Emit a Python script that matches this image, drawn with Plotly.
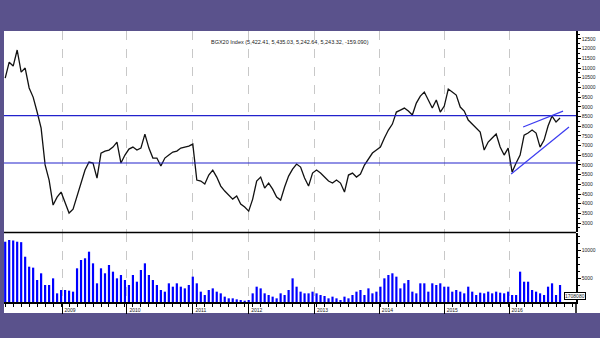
import plotly.graph_objects as go
from plotly.subplots import make_subplots

title_text = "BGX20 Index (5,422.41, 5,435.03, 5,242.64, 5,243.32, -159.090)"

price = [10480, 11300, 11100, 11930, 10790, 11000, 9970, 9500, 8730, 7900,
         6000, 5220, 3930, 4340, 4600, 4030, 3520, 3720, 4390, 5120,
         5735, 6148, 6096, 5322, 6612, 6715, 6767, 6922, 7180, 6096,
         6509, 6818, 6922, 6767, 6870, 7592, 6870, 6354, 6354, 5941,
         6354, 6509, 6664, 6715, 6870, 6922, 6973, 7076, 5219, 5167,
         5012, 5477, 5735, 5374, 4909, 4651, 4445, 4238, 4393, 3980,
         3826, 3619, 4238, 5167, 5374, 4806, 5064, 4754, 4342, 4187,
         4858, 5425, 5786, 6044, 5890, 5322, 4909, 5580, 5735, 5580,
         5374, 5167, 5064, 5219, 5064, 4600, 5477, 5580, 5374, 5528,
         5993, 6302, 6612, 6767, 6922, 7386, 7799, 8108, 8728, 8830,
         8934, 8779, 8573, 9192, 9553, 9760, 9347, 8934, 9347, 8728,
         9037, 9914, 9760, 9605, 8986, 8779, 8315, 8108, 7902, 7696,
         6767, 7180, 7386, 7592, 6922, 6509, 6870, 5632, 6096, 6509,
         7541, 7644, 7799, 7644, 6922, 7283, 8005, 8521, 8212, 8418]

volume = [11480, 11790, 11700, 11480, 11400, 8800, 7020, 6850, 4640, 5840,
          3750, 3750, 4940, 2260, 2860, 2860, 2740, 2560, 6730, 8220,
          8520, 9700, 7620, 4050, 6730, 5840, 7320, 6130, 4940, 5540,
          4640, 3750, 5540, 4340, 6430, 7620, 5540, 4640, 3750, 2860,
          2560, 4050, 3450, 4050, 3450, 3150, 3750, 5240, 4050, 2560,
          1960, 2860, 3150, 2560, 2260, 1670, 1370, 1370, 1190, 1070,
          950, 1070, 2260, 3450, 3150, 2260, 1960, 1670, 1370, 2260,
          1960, 2860, 4940, 3450, 2560, 2260, 2260, 2560, 2260, 1960,
          1790, 1370, 1670, 1370, 1070, 1670, 1370, 1960, 2560, 2860,
          1960, 3150, 2260, 2560, 3450, 4940, 5540, 5840, 5240, 3150,
          4050, 4640, 2560, 2260, 4050, 4050, 2560, 4050, 3750, 4050,
          3450, 3450, 2560, 2860, 2560, 2260, 3450, 2560, 1960, 2380,
          2260, 2560, 2260, 2560, 2380, 2260, 2560, 1960, 1960, 6130,
          4340, 4340, 2860, 2560, 2260, 1960, 3450, 4050, 1960, 3750]

year_labels = ["2009", "2010", "2011", "2012", "2013", "2014", "2015", "2016"]
year_pos = [14.25, 30.5, 47, 61, 77.5, 93.75, 110, 126.25]

price_ticks = list(range(3000, 13000, 500))
volume_ticks = [5000, 10000]

h_levels = [8540, 6100]
upper_trend_x = [129.75, 139.75]
upper_trend_y = [7954, 8779]
lower_trend_x = [126.75, 141.25]
lower_trend_y = [5528, 7954]

last_volume_label = "1708080"

x = list(range(len(price)))

fig = make_subplots(rows=2, cols=1, shared_xaxes=True, vertical_spacing=0.0)

fig.add_trace(go.Scatter(x=x, y=price, mode="lines",
                         line=dict(color="#111111", width=1.3),
                         showlegend=False, hoverinfo="skip"), row=1, col=1)
for lv in h_levels:
    fig.add_trace(go.Scatter(x=[-1, 145], y=[lv, lv], mode="lines",
                             line=dict(color="#2222cc", width=1.2),
                             showlegend=False, hoverinfo="skip"), row=1, col=1)
fig.add_trace(go.Scatter(x=upper_trend_x, y=upper_trend_y, mode="lines",
                         line=dict(color="#3c3cf0", width=1.2),
                         showlegend=False, hoverinfo="skip"), row=1, col=1)
fig.add_trace(go.Scatter(x=lower_trend_x, y=lower_trend_y, mode="lines",
                         line=dict(color="#3c3cf0", width=1.2),
                         showlegend=False, hoverinfo="skip"), row=1, col=1)

fig.add_trace(go.Bar(x=x, y=volume, marker=dict(color="#0000ff", line=dict(width=0)),
                     showlegend=False, hoverinfo="skip"), row=2, col=1)

W, H = 600, 338
ml, mr, mt, mb = 4, 24, 31, 36
ph = H - mt - mb
pw = W - ml - mr

price_dom = [(302 - 232) / ph, 1]
vol_dom = [0, (302 - 233) / ph]

tickfont = dict(family="Liberation Sans, Arial, sans-serif", size=5, color="#222222")

fig.update_layout(
    width=W, height=H,
    margin=dict(l=ml, r=mr, t=mt, b=mb),
    paper_bgcolor="#5a528c",
    plot_bgcolor="white",
    bargap=0.45,
    showlegend=False,
    xaxis=dict(domain=[0, 1], range=[-0.3, 143], showticklabels=False,
               tickvals=year_pos, showgrid=True, gridcolor="#c8c8c8",
               griddash="dash", gridwidth=1, zeroline=False, ticks=""),
    xaxis2=dict(domain=[0, 1], range=[-0.3, 143], tickvals=year_pos,
                ticktext=year_labels, showgrid=True, gridcolor="#c8c8c8",
                griddash="dash", gridwidth=1, zeroline=False,
                showline=True, linecolor="black", linewidth=1.5,
                ticks="outside", ticklen=10, tickcolor="black", tickwidth=1,
                tickfont=tickfont, ticklabelshift=8, ticklabelstandoff=-8,
                minor=dict(ticks="outside", ticklen=3, dtick=2, tick0=0,
                           tickcolor="black", showgrid=False)),
    yaxis=dict(domain=price_dom, range=[2540, 12910], side="right",
               tickvals=price_ticks, ticktext=[str(v) for v in price_ticks],
               showgrid=False, zeroline=False, showline=True,
               linecolor="black", linewidth=1.5, ticks="outside", ticklen=3,
               tickcolor="black", tickfont=tickfont,
               minor=dict(ticks="outside", ticklen=2, dtick=250, tick0=0,
                          tickcolor="black")),
    yaxis2=dict(domain=vol_dom, range=[714, 13036], side="right",
                tickvals=volume_ticks, ticktext=[str(v) for v in volume_ticks],
                showgrid=False, zeroline=False, showline=True,
                linecolor="black", linewidth=1.5, ticks="outside", ticklen=3,
                tickcolor="black", tickfont=tickfont,
                minor=dict(ticks="outside", ticklen=2, dtick=1250, tick0=0,
                           tickcolor="black")),
)

# white panel behind everything
fig.add_shape(type="rect", xref="paper", yref="paper",
              x0=0, x1=1 + mr / pw, y0=-(313 - 302) / ph, y1=1,
              fillcolor="white", line=dict(width=0), layer="below")
# separator between panels
fig.add_shape(type="line", xref="paper", yref="paper",
              x0=0, x1=1, y0=(302 - 232.5) / ph, y1=(302 - 232.5) / ph,
              line=dict(color="black", width=1.5))
# extension of right axis line down to the bottom of the white panel
fig.add_shape(type="line", xref="paper", yref="paper",
              x0=1, x1=1, y0=-(313 - 302) / ph, y1=0,
              line=dict(color="black", width=1.5))

fig.add_annotation(text=title_text, xref="paper", yref="paper",
                   x=(290 - ml) / pw, y=1 - 6 / ph, showarrow=False,
                   font=dict(family="Liberation Sans, Arial, sans-serif", size=5.5, color="#222222"))
fig.add_annotation(text=last_volume_label, xref="paper", yref="paper",
                   x=1 + 10 / pw, y=(302 - 299.5) / ph, showarrow=False,
                   bgcolor="white", bordercolor="black", borderwidth=1, borderpad=0,
                   font=dict(family="Liberation Sans, Arial, sans-serif", size=5, color="#222222"))

fig.write_html("out.html")
